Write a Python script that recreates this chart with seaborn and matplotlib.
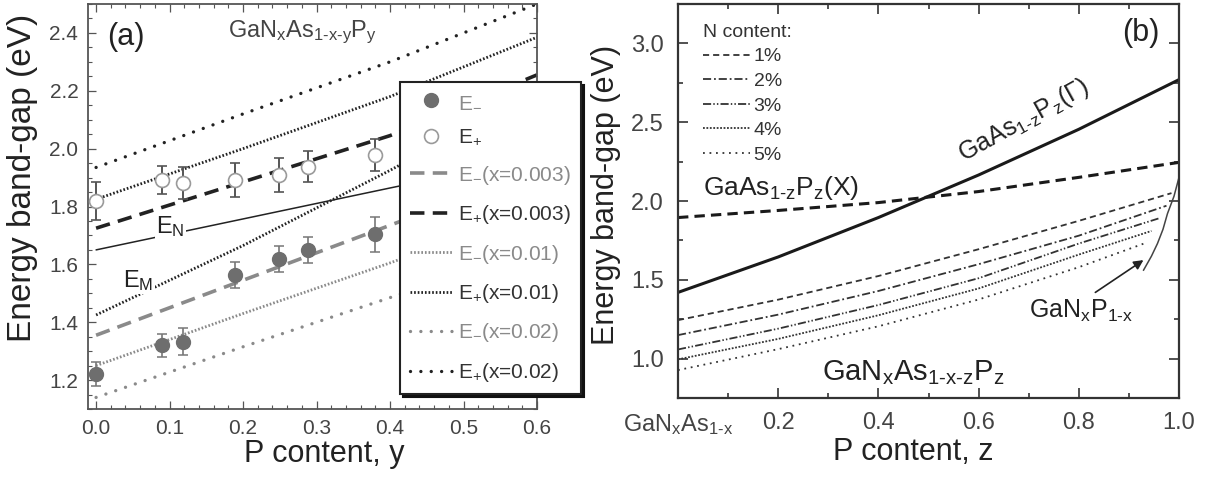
import matplotlib
matplotlib.use("Agg")
import matplotlib.pyplot as plt
import seaborn as sns
from matplotlib.lines import Line2D
from matplotlib.ticker import MultipleLocator, FixedLocator, FixedFormatter

# ---------------- data: panel (a) ----------------
y_pts = [0.0, 0.09, 0.118, 0.189, 0.249, 0.289, 0.38]
e_minus = [1.222, 1.32, 1.333, 1.563, 1.618, 1.65, 1.704]
e_minus_err = [0.042, 0.04, 0.046, 0.046, 0.046, 0.046, 0.06]
e_plus = [1.819, 1.892, 1.88, 1.892, 1.909, 1.938, 1.978]
e_plus_err = [0.066, 0.049, 0.055, 0.059, 0.058, 0.054, 0.056]

y_line = [0.0, 0.2, 0.4, 0.6]
em_003 = [1.355, 1.545, 1.735, 1.93]
ep_003 = [1.725, 1.885, 2.045, 2.255]
em_001 = [1.25, 1.43, 1.605, 1.79]
ep_001 = [1.825, 2.0, 2.18, 2.385]
em_002 = [1.14, 1.315, 1.485, 1.66]
ep_002 = [1.935, 2.12, 2.30, 2.50]
e_N = [1.65, 1.757, 1.864, 1.97]
e_M = [1.425, 1.665, 1.925, 2.2]

# ---------------- data: panel (b) ----------------
z_line = [0.0, 0.2, 0.4, 0.6, 0.8, 1.0]
gaasp_gamma = [1.42, 1.645, 1.895, 2.165, 2.455, 2.77]
gaasp_x = [1.895, 1.94, 1.99, 2.06, 2.15, 2.245]

n_labels = ["1%", "2%", "3%", "4%", "5%"]
z_n = [0.0, 0.2, 0.4, 0.6, 0.8]
e_n1 = [1.244, 1.374, 1.524, 1.694, 1.874]
e_n2 = [1.149, 1.279, 1.429, 1.599, 1.78]
e_n3 = [1.058, 1.19, 1.34, 1.51, 1.73]
e_n4 = [0.995, 1.125, 1.275, 1.445, 1.66]
e_n5 = [0.927, 1.06, 1.205, 1.375, 1.58]
n_end_z = [0.985, 0.975, 0.96, 0.945, 0.93]
n_end_e = [2.05, 1.97, 1.89, 1.81, 1.73]

z_ganp = [0.929, 0.945, 0.957, 0.968, 0.977, 0.99, 1.0]
e_ganp = [1.56, 1.65, 1.73, 1.82, 1.92, 2.03, 2.15]

HY = "\u2010"  # typographic hyphen for compositions
x_ticks_b = [0.0, 0.2, 0.4, 0.6, 0.8, 1.0]
x_ticklabels_b = [r"GaN$_x$As$_{1" + HY + "x}$", "0.2", "0.4", "0.6", "0.8", "1.0"]

# ---------------- style ----------------
sns.set_theme(style="ticks")
plt.rcParams["font.family"] = ["Liberation Sans", "DejaVu Sans"]
plt.rcParams["mathtext.default"] = "regular"
plt.rcParams["xtick.direction"] = "in"
plt.rcParams["ytick.direction"] = "in"
plt.rcParams["xtick.top"] = True
plt.rcParams["ytick.right"] = True

DARK = "#222222"
GRAY = "#8a8a8a"

fig = plt.figure(figsize=(12.1, 4.79), dpi=100)
W, H = 1210, 479
ax_a = fig.add_axes([88 / W, 1 - 409 / H, (537 - 88) / W, (409 - 4) / H])
ax_b = fig.add_axes([678 / W, 1 - 398 / H, (1179 - 678) / W, (398 - 4) / H])

# ---------------- panel (a) ----------------
st_003 = dict(lw=2.6, linestyle=(0, (4.0, 2.3)))
st_001 = dict(lw=2.0, linestyle=(0, (0.6, 0.7)))
st_002 = dict(lw=2.4, linestyle=(0, (0.01, 3.1)), dash_capstyle="round")

sns.lineplot(x=y_line, y=ep_002, ax=ax_a, color=DARK, **st_002)
sns.lineplot(x=y_line, y=em_002, ax=ax_a, color=GRAY, **st_002)
sns.lineplot(x=y_line, y=ep_001, ax=ax_a, color=DARK, **st_001)
sns.lineplot(x=y_line, y=em_001, ax=ax_a, color=GRAY, **st_001)
sns.lineplot(x=y_line, y=ep_003, ax=ax_a, color=DARK, **st_003)
sns.lineplot(x=y_line, y=em_003, ax=ax_a, color=GRAY, **st_003)
sns.lineplot(x=y_line, y=e_N, ax=ax_a, color=DARK, lw=1.1)
sns.lineplot(x=y_line, y=e_M, ax=ax_a, color=DARK, **st_001)

ax_a.errorbar(y_pts, e_plus, yerr=e_plus_err, fmt="o", ms=10, mfc="white",
              mec="#9a9a9a", mew=1.2, ecolor="#555555", elinewidth=1.4,
              capsize=3.5, capthick=1.2, zorder=4)
ax_a.errorbar(y_pts, e_minus, yerr=e_minus_err, fmt="o", ms=10, mfc="#6e6e6e",
              mec="#6e6e6e", ecolor="#777777", elinewidth=1.2,
              capsize=3.5, capthick=1.1, zorder=4)

ax_a.set_xlim(-0.011, 0.6)
ax_a.set_ylim(1.1, 2.5)
ax_a.xaxis.set_major_locator(MultipleLocator(0.1))
ax_a.xaxis.set_minor_locator(MultipleLocator(0.02))
ax_a.yaxis.set_major_locator(FixedLocator([1.2, 1.4, 1.6, 1.8, 2.0, 2.2, 2.4]))
ax_a.yaxis.set_minor_locator(MultipleLocator(0.05))
ax_a.tick_params(which="major", length=5.5, width=0.9, color="#555555",
                 labelsize=15, labelcolor="#444444", pad=7)
ax_a.tick_params(which="minor", length=3, width=0.8, color="#555555")
for s in ax_a.spines.values():
    s.set_color("#555555")
    s.set_linewidth(1.3)

ax_a.set_xlabel("P content, y", fontsize=22, color="#222222")
ax_a.set_ylabel("Energy band-gap (eV)", fontsize=24, color="#222222")
ax_a.xaxis.set_label_coords(0.526, -0.074)
ax_a.yaxis.set_label_coords(-0.111, 0.57)

ax_a.text(0.015, 2.387, "(a)", fontsize=22, color="#222222", va="center", ha="left")
ax_a.text(0.18, 2.385, r"GaN$_x$As$_{1" + HY + "x" + HY + "y}$P$_y$", fontsize=17,
          color="#444444", va="baseline", ha="left")
ax_a.text(0.082, 1.709, r"E$_N$", fontsize=17, color="#222222", va="baseline",
          ha="left", bbox=dict(fc="white", ec="none", pad=0.8), zorder=3)
ax_a.text(0.037, 1.522, r"E$_M$", fontsize=17, color="#222222", va="baseline",
          ha="left", bbox=dict(fc="white", ec="none", pad=0.8), zorder=3)

handles_a = [
    Line2D([], [], ls="none", marker="o", ms=10, mfc="#6e6e6e", mec="#6e6e6e"),
    Line2D([], [], ls="none", marker="o", ms=10, mfc="white", mec="#9a9a9a", mew=1.2),
    Line2D([], [], color=GRAY, **st_003),
    Line2D([], [], color=DARK, **st_003),
    Line2D([], [], color=GRAY, **st_001),
    Line2D([], [], color=DARK, **st_001),
    Line2D([], [], color=GRAY, **st_002),
    Line2D([], [], color=DARK, **st_002),
]
labels_a = [r"E$_{-}$", r"E$_{+}$", r"E$_{-}$(x=0.003)", r"E$_{+}$(x=0.003)",
            r"E$_{-}$(x=0.01)", r"E$_{+}$(x=0.01)", r"E$_{-}$(x=0.02)", r"E$_{+}$(x=0.02)"]
leg_a = ax_a.legend(handles_a, labels_a, loc="upper left",
                    bbox_to_anchor=(400 / W, 1 - 82 / H), bbox_transform=fig.transFigure,
                    fontsize=15, handlelength=2.0, handletextpad=0.3, labelspacing=0.79,
                    borderpad=0.5, borderaxespad=0, fancybox=False, framealpha=1,
                    edgecolor="#222222", shadow={"ox": 2, "oy": -2, "color": "#111111", "alpha": 1})
leg_a.get_frame().set_linewidth(1.5)
for i, t in enumerate(leg_a.get_texts()):
    t.set_color(GRAY if i % 2 == 0 else "#333333")

# ---------------- panel (b) ----------------
sns.lineplot(x=z_line, y=gaasp_gamma, ax=ax_b, color="#1a1a1a", lw=2.2)
sns.lineplot(x=z_line, y=gaasp_x, ax=ax_b, color="#1a1a1a", lw=2.2,
             linestyle=(0, (3.4, 2.0)))

n_series = [e_n1, e_n2, e_n3, e_n4, e_n5]
n_styles = [
    (0, (3.4, 2.2)),
    (0, (4.5, 1.6, 1.0, 1.6)),
    (0, (4.5, 1.2, 0.8, 1.2, 0.8, 1.2)),
    (0, (1.0, 0.9)),
    (0, (1.0, 2.6)),
]
n_handles = []
for vals, ls, lab, ze, ee in zip(n_series, n_styles, n_labels, n_end_z, n_end_e):
    sns.lineplot(x=z_n + [ze], y=vals + [ee], ax=ax_b, color="#333333", lw=1.3,
                 linestyle=ls)
    n_handles.append(Line2D([], [], color="#333333", lw=1.3, linestyle=ls))

sns.lineplot(x=z_ganp, y=e_ganp, ax=ax_b, color="#444444", lw=1.1)

ax_b.set_xlim(0, 1.0)
ax_b.set_ylim(0.75, 3.25)
ax_b.xaxis.set_major_locator(FixedLocator(x_ticks_b))
ax_b.xaxis.set_major_formatter(FixedFormatter(x_ticklabels_b))
ax_b.xaxis.set_minor_locator(MultipleLocator(0.1))
ax_b.yaxis.set_major_locator(MultipleLocator(0.5))
ax_b.yaxis.set_minor_locator(MultipleLocator(0.25))
ax_b.tick_params(which="major", length=7, width=1.2, color="#333333",
                 labelsize=17, labelcolor="#444444", pad=10)
ax_b.tick_params(which="minor", length=3.5, width=1.2, color="#333333")
for s in ax_b.spines.values():
    s.set_color("#333333")
    s.set_linewidth(1.6)

ax_b.set_xlabel("P content, z", fontsize=22, color="#222222")
ax_b.set_ylabel("Energy band-gap (eV)", fontsize=22, color="#222222")
ax_b.xaxis.set_label_coords(0.47, -0.099)
ax_b.yaxis.set_label_coords(-0.114, 0.515)

leg_b = ax_b.legend(n_handles, n_labels, title="N content:", loc="upper left",
                    bbox_to_anchor=(0.05, 0.95), frameon=False, fontsize=14,
                    title_fontsize=14, handlelength=2.4, handletextpad=0.2,
                    labelspacing=0.36, borderpad=0, borderaxespad=0, alignment="left")
for t in leg_b.get_texts():
    t.set_color("#333333")
leg_b.get_title().set_color("#333333")

ax_b.text(0.923, 3.063, "(b)", fontsize=22, color="#222222", ha="center", va="center")
ax_b.text(0.69, 2.51, r"GaAs$_{1" + HY + "z}$P$_z$($\Gamma$)", fontsize=18,
          color="#222222", ha="center", va="center", rotation=29, rotation_mode="anchor")
ax_b.text(0.05, 2.04, r"GaAs$_{1" + HY + "z}$P$_z$(X)", fontsize=19, color="#222222",
          ha="left", va="baseline")
ax_b.text(0.288, 0.864, r"GaN$_x$As$_{1" + HY + "x" + HY + "z}$P$_z$", fontsize=21,
          color="#222222", ha="left", va="baseline")
ax_b.text(0.70, 1.256, r"GaN$_x$P$_{1" + HY + "x}$", fontsize=18, color="#222222",
          ha="left", va="baseline")
ax_b.annotate("", xy=(0.929, 1.625), xytext=(0.833, 1.42),
              arrowprops=dict(arrowstyle="-|>", color="#222222", lw=1.2,
                              mutation_scale=14, shrinkA=0, shrinkB=0))

fig.savefig("out.png", dpi=100)
